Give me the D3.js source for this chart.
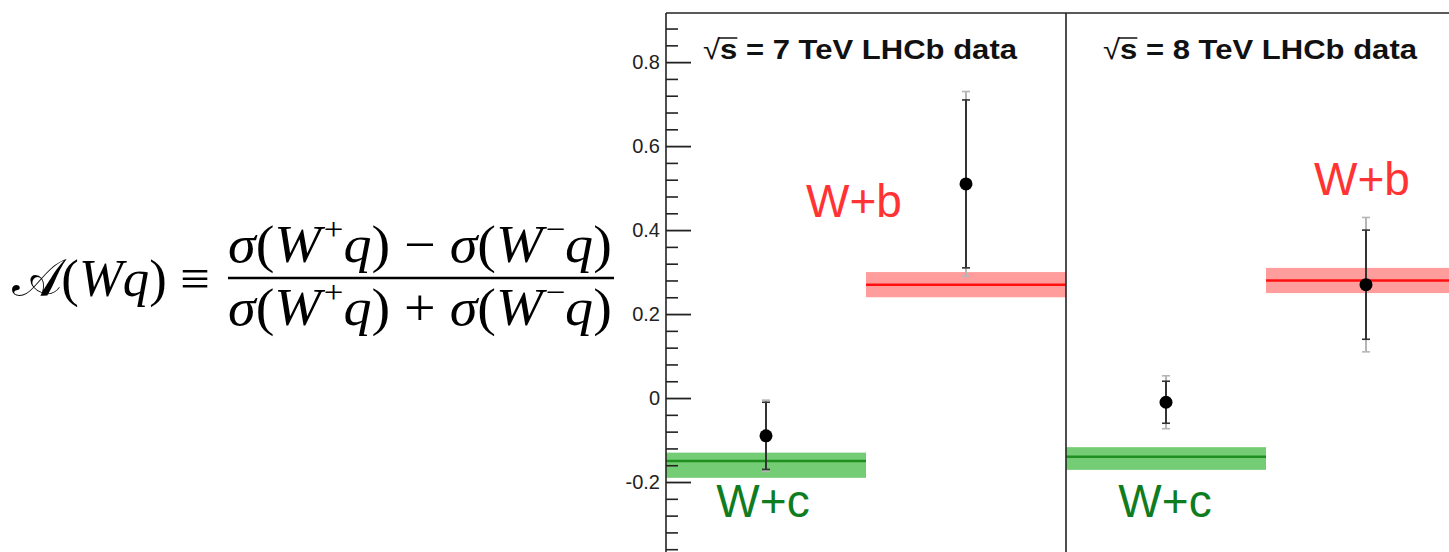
<!DOCTYPE html>
<html>
<head>
<meta charset="utf-8">
<script src="https://cdn.jsdelivr.net/npm/d3@7"></script>
<style>
  html, body { margin: 0; padding: 0; background: #fff; }
  svg { display: block; }
</style>
</head>
<body>
<svg id="chart" width="1449" height="552"></svg>
<script>
// Charge asymmetry A(Wq) of W+c and W+b production:
// LHCb data at 7 and 8 TeV (points) against the SM prediction (bands).
const energies = ["7", "8"];
const processes = ["W+c", "W+b"];
// one entry per bin, ordered 7 TeV W+c, 7 TeV W+b, 8 TeV W+c, 8 TeV W+b
const measured = [-0.09, 0.51, -0.01, 0.27];
const statErr = [0.08, 0.20, 0.05, 0.13];
const totalErr = [0.085, 0.22, 0.063, 0.16];
const predCentral = [-0.15, 0.27, -0.14, 0.28];
const predLow = [-0.19, 0.24, -0.171, 0.25];
const predHigh = [-0.13, 0.30, -0.117, 0.31];
const yMajorTicks = [-0.2, 0, 0.2, 0.4, 0.6, 0.8];
// label anchors in (bin, asymmetry) units
const labelBin = [0.485, 0.94, 2.495, 3.48];
const labelAsym = [-0.283, 0.431, -0.283, 0.483];

const svg = d3.select("#chart");
const sans = "'Liberation Sans', Arial, Helvetica, sans-serif";
const serif = "'Liberation Serif', 'Times New Roman', serif";

const x = d3.scaleLinear().domain([0, 4]).range([666, 1466]);
const y = d3.scaleLinear().domain([-0.4, 0.917]).range([566, 13]);

const bins = measured.map((m, i) => ({
  i,
  energy: energies[Math.floor(i / 2)],
  process: processes[i % 2],
  m, stat: statErr[i], tot: totalErr[i],
  c: predCentral[i], lo: predLow[i], hi: predHigh[i]
}));

const colors = {
  "W+c": { band: "#74cc74", line: "#1f8f1f", label: "#0f7d1f" },
  "W+b": { band: "#ff9d9d", line: "#ff1010", label: "#ff3333" }
};

// ---- prediction bands ----
const bands = svg.append("g");
bands.selectAll("rect").data(bins).join("rect")
  .attr("x", d => x(d.i))
  .attr("width", d => x(d.i + 1) - x(d.i))
  .attr("y", d => y(d.hi))
  .attr("height", d => y(d.lo) - y(d.hi))
  .attr("fill", d => colors[d.process].band);
bands.selectAll("line").data(bins).join("line")
  .attr("x1", d => x(d.i)).attr("x2", d => x(d.i + 1))
  .attr("y1", d => y(d.c)).attr("y2", d => y(d.c))
  .attr("stroke", d => colors[d.process].line)
  .attr("stroke-width", 2.5);

// ---- frame ----
const frame = svg.append("g").attr("stroke", "#222").attr("stroke-width", 1.6);
frame.append("line").attr("x1", x(0)).attr("x2", x(4)).attr("y1", y(0.917)).attr("y2", y(0.917));
[0, 2, 4].forEach(b => {
  frame.append("line").attr("x1", x(b)).attr("x2", x(b)).attr("y1", y(0.917)).attr("y2", y(-0.4));
});

// ---- y axis ----
const fmt = v => (Math.abs(v) < 1e-9 ? "0" : v.toFixed(1));
const minorTicks = d3.range(-10, 23).filter(k => k % 5 !== 0).map(k => k * 0.04);

const yMinor = svg.append("g").attr("transform", `translate(${x(0)},0)`)
  .call(d3.axisLeft(y).tickValues(minorTicks).tickSizeInner(-12).tickSizeOuter(0).tickFormat(""));
yMinor.select(".domain").remove();
yMinor.selectAll("line").attr("stroke", "#222").attr("stroke-width", 1.6);

const yMajor = svg.append("g").attr("transform", `translate(${x(0)},0)`)
  .call(d3.axisLeft(y).tickValues(yMajorTicks).tickSizeInner(-25).tickSizeOuter(0).tickPadding(6).tickFormat(fmt));
yMajor.select(".domain").remove();
yMajor.selectAll("line").attr("stroke", "#222").attr("stroke-width", 1.8);
yMajor.selectAll("text").attr("font-family", sans).attr("font-size", 20).attr("fill", "#222");

// ---- panel titles ----
energies.forEach((e, k) => {
  const t = svg.append("text")
    .attr("x", x(2 * k) + 37).attr("y", 59)
    .attr("font-family", sans).attr("font-weight", "bold").attr("font-size", 28)
    .attr("fill", "#111")
    .attr("textLength", 314).attr("lengthAdjust", "spacingAndGlyphs");
  t.append("tspan").attr("font-weight", "normal").text("√");
  t.append("tspan").text(`s = ${e} TeV LHCb data`);
  const ext = t.node().getExtentOfChar(1);
  svg.append("line")
    .attr("x1", ext.x - 1).attr("x2", ext.x + ext.width)
    .attr("y1", 38).attr("y2", 38)
    .attr("stroke", "#111").attr("stroke-width", 1.5);
});

// ---- data points with stat and total uncertainties ----
const pts = svg.append("g");
const capW = 4;
bins.forEach(d => {
  const cx = x(d.i + 0.5);
  const g = pts.append("g");
  // total uncertainty
  g.append("line").attr("x1", cx).attr("x2", cx)
    .attr("y1", y(d.m + d.tot)).attr("y2", y(d.m - d.tot))
    .attr("stroke", "#b5b5b5").attr("stroke-width", 2);
  [d.m + d.tot, d.m - d.tot].forEach(v => g.append("line")
    .attr("x1", cx - capW).attr("x2", cx + capW).attr("y1", y(v)).attr("y2", y(v))
    .attr("stroke", "#b5b5b5").attr("stroke-width", 1.6));
  // statistical uncertainty
  g.append("line").attr("x1", cx).attr("x2", cx)
    .attr("y1", y(d.m + d.stat)).attr("y2", y(d.m - d.stat))
    .attr("stroke", "#333").attr("stroke-width", 2);
  [d.m + d.stat, d.m - d.stat].forEach(v => g.append("line")
    .attr("x1", cx - capW).attr("x2", cx + capW).attr("y1", y(v)).attr("y2", y(v))
    .attr("stroke", "#333").attr("stroke-width", 1.6));
  g.append("circle").attr("cx", cx).attr("cy", y(d.m)).attr("r", 6.5).attr("fill", "#000");
});

// ---- process labels ----
svg.append("g").selectAll("text").data(bins).join("text")
  .attr("x", d => x(labelBin[d.i]))
  .attr("y", d => y(labelAsym[d.i]))
  .attr("text-anchor", "middle")
  .attr("font-family", sans).attr("font-size", 46)
  .attr("fill", d => colors[d.process].label)
  .text(d => d.process);

// ---- asymmetry definition ----
function mathText(xLeft, xRight, baseline, parts, size) {
  const t = svg.append("text").attr("y", baseline)
    .attr("font-family", serif).attr("font-size", size).attr("fill", "#000");
  parts.forEach(p => {
    const s = t.append("tspan").text(p.t);
    if (p.i) s.attr("font-style", "italic");
    if (p.sup) s.attr("font-size", size * 0.62).attr("dy", -size * 0.42).attr("dx", size * 0.05);
    if (p.back) s.attr("dy", size * 0.42);
    if (p.font) s.attr("font-family", p.font);
  });
  const b = t.node().getBBox();
  const k = (xRight - xLeft) / b.width;
  t.attr("transform", `translate(${xLeft - b.x * k},0) scale(${k},1)`);
  return t;
}

mathText(12, 210, 296, [
  { t: "𝒜", font: "'DejaVu Serif', 'Noto Sans', serif" },
  { t: "(" }, { t: "W", i: 1 }, { t: "q", i: 1 }, { t: ")" }, { t: " ≡" }
], 52);

mathText(228, 612, 262, [
  { t: "σ", i: 1 }, { t: "(" }, { t: "W", i: 1 }, { t: "+", sup: 1 }, { t: "q", i: 1, back: 1 }, { t: ")" },
  { t: " − " },
  { t: "σ", i: 1 }, { t: "(" }, { t: "W", i: 1 }, { t: "−", sup: 1 }, { t: "q", i: 1, back: 1 }, { t: ")" }
], 52);

mathText(228, 612, 325, [
  { t: "σ", i: 1 }, { t: "(" }, { t: "W", i: 1 }, { t: "+", sup: 1 }, { t: "q", i: 1, back: 1 }, { t: ")" },
  { t: " + " },
  { t: "σ", i: 1 }, { t: "(" }, { t: "W", i: 1 }, { t: "−", sup: 1 }, { t: "q", i: 1, back: 1 }, { t: ")" }
], 52);

svg.append("line").attr("x1", 228).attr("x2", 614).attr("y1", 278).attr("y2", 278)
  .attr("stroke", "#000").attr("stroke-width", 2.5);
</script>
</body>
</html>
